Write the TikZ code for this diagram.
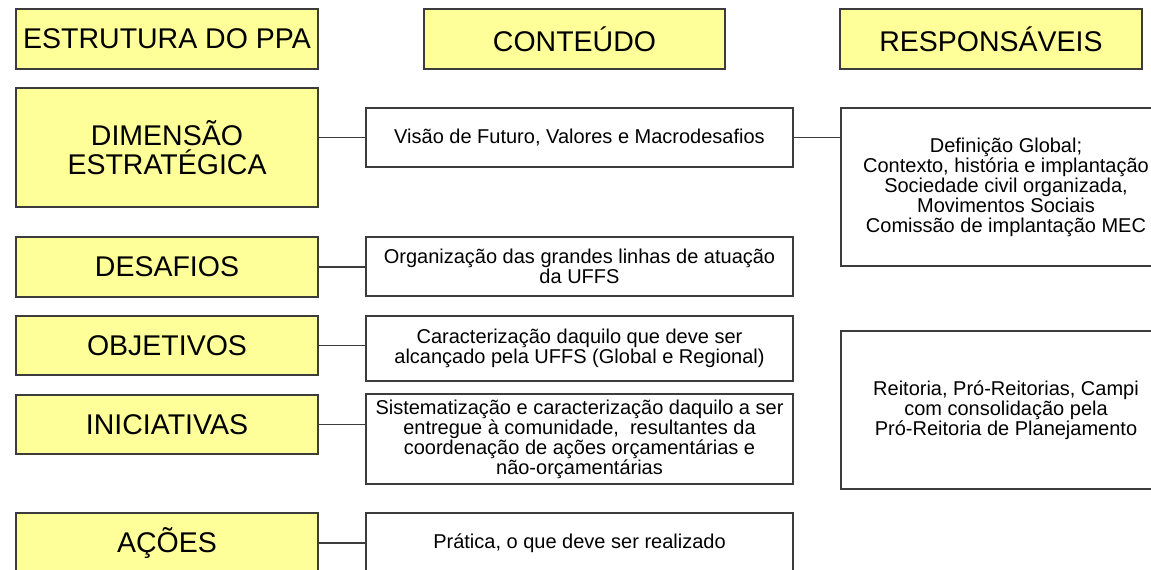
\documentclass[tikz,border=0pt]{standalone}
\usepackage{fontspec}
\setmainfont{Liberation Sans}
\definecolor{boxyellow}{RGB}{255,255,153}
\definecolor{edge}{RGB}{60,60,60}
\tikzset{
  titlebox/.style={draw=edge, line width=1.2pt, fill=boxyellow, minimum width=302pt, inner sep=0pt, align=center, font=\fontsize{28.5}{29.5}\selectfont},
  contentbox/.style={draw=edge, line width=1.2pt, fill=white, minimum width=427pt, inner sep=0pt, align=center, font=\fontsize{20}{20}\selectfont},
  respbox/.style={draw=edge, line width=1.2pt, fill=white, minimum width=330pt, inner sep=0pt, align=center, font=\fontsize{20}{20}\selectfont},
  link/.style={draw=edge, line width=1.3pt}
}
\begin{document}
\begin{tikzpicture}[x=1pt,y=-1pt]
\useasboundingbox (0,0) rectangle (1151,570);
\clip (0,0) rectangle (1151,570);
\fill[white] (0,0) rectangle (1151,570);
% headers
\node[titlebox, minimum height=60pt] (h1) at (167,39) {ESTRUTURA DO PPA};
\node[titlebox, minimum height=60pt, minimum width=301pt] (h2) at (574.5,39) {CONTEÚDO};
\node[titlebox, minimum height=60pt] (h3) at (991,39) {RESPONSÁVEIS};
% left column
\node[titlebox, minimum height=119pt] (dim) at (167,147.5) {DIMENSÃO\\ESTRATÉGICA};
\node[titlebox, minimum height=60pt] (des) at (167,267) {DESAFIOS};
\node[titlebox, minimum height=59pt] (obj) at (167,345.5) {OBJETIVOS};
\node[titlebox, minimum height=59pt] (ini) at (167,424.5) {INICIATIVAS};
\node[titlebox, minimum height=60pt] (aco) at (167,543) {AÇÕES};
% content column
\node[contentbox, minimum height=59pt] (c1) at (579.5,137.5) {Visão de Futuro, Valores e Macrodesafios};
\node[contentbox, minimum height=59pt] (c2) at (579.5,266.5) {Organização das grandes linhas de atuação\\da UFFS};
\node[contentbox, minimum height=65pt] (c3) at (579.5,348.5) {Caracterização daquilo que deve ser\\alcançado pela UFFS (Global e Regional)};
\node[contentbox, minimum height=90pt] (c4) at (579.5,439) {Sistematização e caracterização daquilo a ser\\entregue à comunidade,\ \ resultantes da\\coordenação de ações orçamentárias e\\não-orçamentárias};
\node[contentbox, minimum height=60pt] (c5) at (579.5,543) {Prática, o que deve ser realizado};
% responsible column
\node[respbox, minimum height=158pt] (r1) at (1006,187) {Definição Global;\\Contexto, história e implantação\\Sociedade civil organizada,\\Movimentos Sociais\\Comissão de implantação MEC};
\node[respbox, minimum height=158pt] (r2) at (1006,410) {Reitoria, Pró-Reitorias, Campi\\com consolidação pela\\Pró-Reitoria de Planejamento};
% connectors
\draw[link] (dim.east |- c1.west) -- (c1.west);
\draw[link] (c1.east) -- (r1.west |- c1.east);
\draw[link] (des.east) -- (des.east -| c2.west);
\draw[link] (obj.east) -- (obj.east -| c3.west);
\draw[link] (ini.east) -- (ini.east -| c4.west);
\draw[link] (aco.east) -- (aco.east -| c5.west);
\end{tikzpicture}
\end{document}
